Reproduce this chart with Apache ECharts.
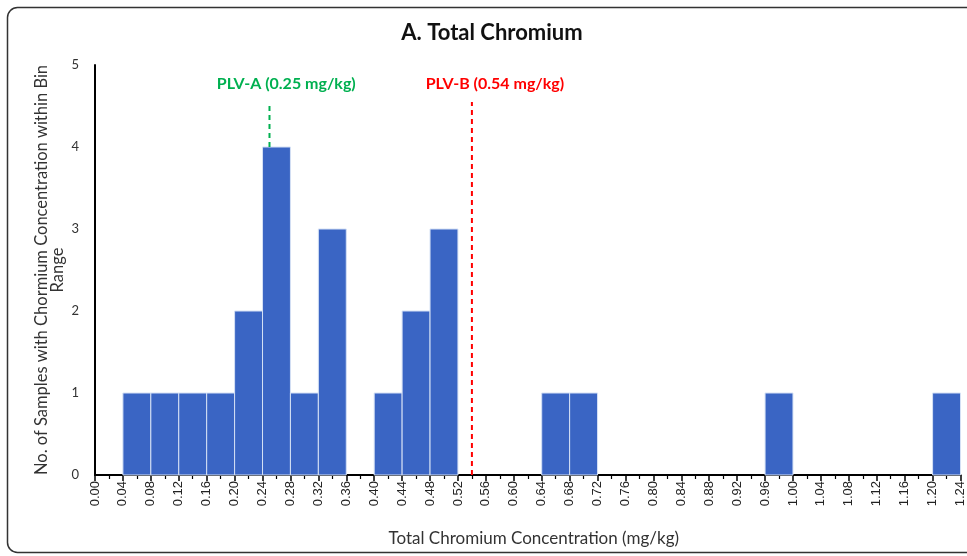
<!DOCTYPE html>
<html>
<head>
<meta charset="utf-8">
<script src="https://cdn.jsdelivr.net/npm/echarts@6/dist/echarts.min.js"></script>
<style>
html,body{margin:0;padding:0;background:#fff;}
#chart{width:967px;height:556px;}
</style>
</head>
<body>
<div id="chart"></div>
<script>
// Histogram bins (mg/kg) and counts
var binStarts = [0.04, 0.08, 0.12, 0.16, 0.20, 0.24, 0.28, 0.32, 0.40, 0.44, 0.48, 0.64, 0.68, 0.96, 1.20];
var binEnds   = [0.08, 0.12, 0.16, 0.20, 0.24, 0.28, 0.32, 0.36, 0.44, 0.48, 0.52, 0.68, 0.72, 1.00, 1.24];
var counts    = [1, 1, 1, 1, 2, 4, 1, 3, 1, 2, 3, 1, 1, 1, 1];

// Reference lines (PLV)
var plvNames  = ['PLV-A (0.25 mg/kg)', 'PLV-B (0.54 mg/kg)'];
var plvValues = [0.25, 0.54];
var plvFrom   = [4.0, 0];
var plvTo     = [4.5, 4.55];
var plvLabelX = [0.274, 0.573];
var plvLabelY = [4.77, 4.77];
var plvColors = ['#00B050', '#FF0000'];

var xMin = 0, xMax = 1.24, xStep = 0.04;
var yMin = 0, yMax = 5, yStep = 1;

var barData = binStarts.map(function (s, i) { return [s, binEnds[i], counts[i]]; });
var plvData = plvValues.map(function (v, i) { return [v, plvFrom[i], plvTo[i], plvLabelX[i], plvLabelY[i], i]; });

var chart = echarts.init(document.getElementById('chart'));
chart.setOption({
  animation: false,
  backgroundColor: '#fff',
  title: {
    text: 'A. Total Chromium',
    left: 487, top: 17, textAlign: 'center',
    textStyle: { fontFamily: 'Lato', fontWeight: 'bold', fontSize: 22, color: '#111' }
  },
  graphic: [{
    type: 'rect',
    shape: { x: 7.5, y: 7.5, width: 990, height: 545, r: 10 },
    style: { fill: 'none', stroke: '#333', lineWidth: 1.5 },
    silent: true, z: -1
  }],
  grid: { left: 95, right: 5, top: 65, bottom: 81 },
  xAxis: {
    type: 'value', min: xMin, max: xMax, interval: xStep,
    name: 'Total Chromium Concentration (mg/kg)',
    nameLocation: 'middle', nameGap: 55,
    nameTextStyle: { fontFamily: 'Lato', fontSize: 17, color: '#333', padding: [0, 0, 0, 12] },
    axisLine: { show: true, lineStyle: { color: '#000', width: 2 } },
    axisTick: { show: true, length: 6, lineStyle: { color: '#000', width: 1.5 } },
    minorTick: { show: true, splitNumber: 2, length: 4, lineStyle: { color: '#000', width: 1.2 } },
    splitLine: { show: false },
    axisLabel: {
      rotate: 90, fontFamily: 'Liberation Sans', fontSize: 13, color: '#222', margin: 6,
      formatter: function (v) { return v.toFixed(2); }
    }
  },
  yAxis: {
    type: 'value', min: yMin, max: yMax, interval: yStep,
    name: 'No. of Samples with Chormium Concentration within Bin\nRange',
    nameLocation: 'middle', nameGap: 29, nameMoveOverlap: false,
    nameTextStyle: { fontFamily: 'Lato', fontSize: 16.5, color: '#333', lineHeight: 16, align: 'center' },
    axisLine: { show: true, lineStyle: { color: '#000', width: 2 } },
    axisTick: { show: false },
    splitLine: { show: false },
    axisLabel: { fontFamily: 'Lato', fontSize: 13, color: '#333', margin: 16 }
  },
  series: [{
    type: 'custom',
    data: barData,
    encode: { x: [0, 1], y: 2 },
    renderItem: function (params, api) {
      var p0 = api.coord([api.value(0), 0]);
      var p1 = api.coord([api.value(1), api.value(2)]);
      return {
        type: 'rect',
        shape: { x: p0[0], y: p1[1], width: p1[0] - p0[0], height: p0[1] - p1[1] },
        style: { fill: '#3A65C4', stroke: '#D5E1F5', lineWidth: 1 }
      };
    }
  }, {
    type: 'custom',
    data: plvData,
    encode: { x: 0, y: [1, 2] },
    z: 5,
    renderItem: function (params, api) {
      var idx = api.value(5);
      var a = api.coord([api.value(0), api.value(1)]);
      var b = api.coord([api.value(0), api.value(2)]);
      var t = api.coord([api.value(3), api.value(4)]);
      return {
        type: 'group',
        children: [{
          type: 'line',
          shape: { x1: a[0], y1: a[1], x2: b[0], y2: b[1] },
          style: { stroke: plvColors[idx], lineWidth: 2, lineDash: [5, 4] }
        }, {
          type: 'text',
          style: {
            x: t[0], y: t[1], text: plvNames[idx],
            fill: plvColors[idx], align: 'center', verticalAlign: 'middle',
            font: 'bold 16px Lato'
          }
        }]
      };
    }
  }]
});
</script>
</body>
</html>
